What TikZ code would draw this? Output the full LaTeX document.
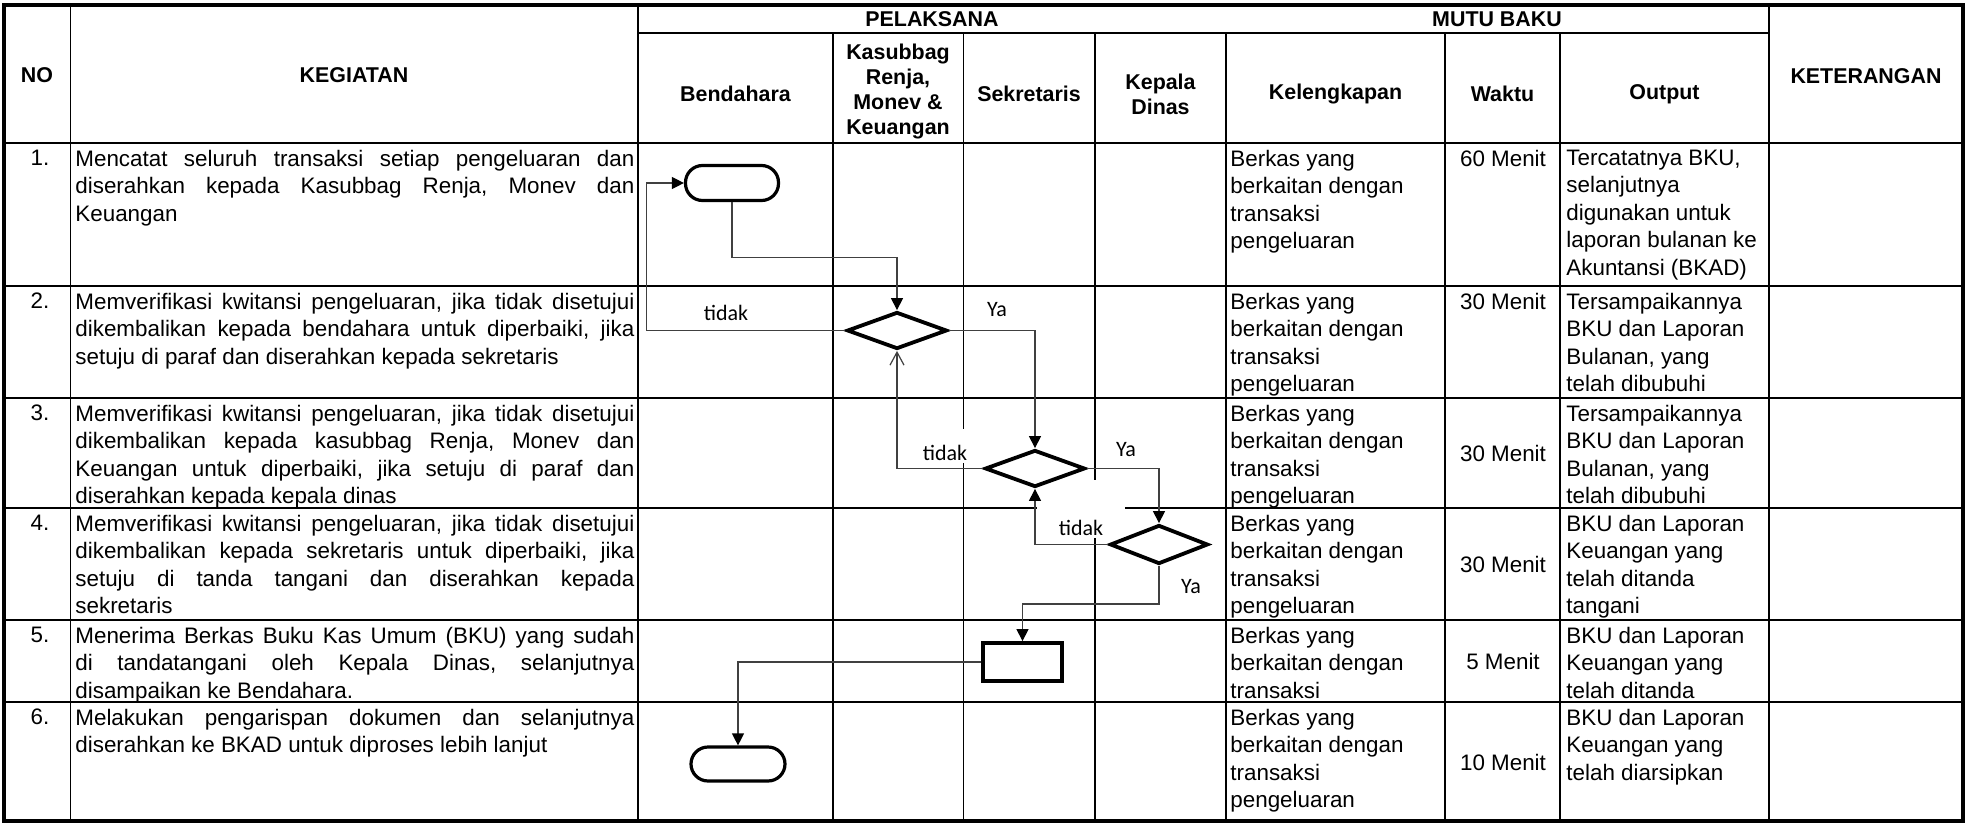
\documentclass[tikz,border=0pt]{standalone}
\usepackage{fontspec}
\setmainfont{Liberation Sans}
\newfontfamily\lblfont{Carlito}
\usetikzlibrary{shapes.geometric,arrows.meta}
\newcommand\bodysize{\fontsize{11.2}{13.75}\selectfont}
\newcommand\headsize{\fontsize{10.7}{12.5}\selectfont\bfseries}
\tolerance=9999
\hyphenpenalty=10000
\frenchspacing

\begin{document}
\begin{tikzpicture}[
  x=0.5pt, y=-0.5pt,
  grid/.style={line width=0.9pt},
  head/.style={font=\headsize, align=center, inner sep=0pt},
  body/.style={font=\bodysize, align=left, inner sep=0pt, anchor=north west},
  kegtext/.style={body, text width=279.5pt, align=justify},
  nocell/.style={font=\bodysize, inner sep=0pt, anchor=north},
  wkt/.style={font=\bodysize, inner sep=0pt},
  term/.style={draw, line width=1.6pt, rounded corners=8.5pt, minimum width=46.5pt, minimum height=17.5pt, inner sep=0pt},
  decision/.style={draw, diamond, line width=1.9pt, minimum width=50pt, minimum height=18.5pt, inner sep=0pt},
  proc/.style={draw, line width=1.9pt, minimum width=39.5pt, minimum height=19pt, inner sep=0pt},
  conn/.style={line width=0.6pt, draw=black!75, -{Triangle[length=6pt,width=6pt,color=black]}},
  openconn/.style={conn, -{Straight Barb[length=6.5pt,width=7pt]}},
  lbl/.style={font=\lblfont\fontsize{11}{13}\selectfont, inner sep=1pt, fill=white}
]
  \useasboundingbox (0,0) rectangle (1967,825);

  % table lines
  \foreach \y in {286,398,508,620,702} \draw[grid] (4,\y) -- (1963,\y);
  \draw[line width=1.3pt] (4,143) -- (1963,143);
  \draw[line width=1.3pt] (638,33) -- (1769,33);
  \foreach \x in {70.5,638,1769} \draw[grid] (\x,5) -- (\x,821);
  \foreach \x in {833,963.5,1095,1226,1445,1560} \draw[grid] (\x,33) -- (\x,821);
  \draw[line width=2pt] (4,5) rectangle (1963,821);

  % header
  \node[head] (hno) at (37,75) {NO};
  \node[head] (hkeg) at (354,75) {KEGIATAN};
  \node[head] (hpel) at (932,19) {PELAKSANA};
  \node[head] (hmutu) at (1497,19) {MUTU BAKU};
  \node[head] (hket) at (1866,76) {KETERANGAN};
  \node[head] (hbend) at (735.5,94) {Bendahara};
  \node[head] (hkas) at (898,92) {Kasubbag\\Renja,\\Monev \&\\Keuangan};
  \node[head] (hsek) at (1029,94) {Sekretaris};
  \node[head] (hkep) at (1160.5,94) {Kepala\\Dinas};
  \node[head] (hkel) at (1335.5,94) {Kelengkapan};
  \node[head] (hwkt) at (1502.5,94) {Waktu};
  \node[head] (hout) at (1664.5,94) {Output};

  % row 1
  \node[nocell] (no1) at (40,149.5) {1.};
  \node[kegtext] (keg1) at (75,149.5) {Mencatat seluruh transaksi setiap pengeluaran dan\linebreak diserahkan kepada Kasubbag Renja, Monev dan\linebreak Keuangan};
  \node[body] (kel1) at (1230,149.5) {Berkas yang\\berkaitan dengan\\transaksi\\pengeluaran};
  \node[nocell] (wkt1) at (1503,149.5) {60 Menit};
  \node[body] (out1) at (1566,149.5) {Tercatatnya BKU,\\selanjutnya\\digunakan untuk\\laporan bulanan ke\\Akuntansi (BKAD)};

  % row 2
  \node[nocell] (no2) at (40,292.5) {2.};
  \node[kegtext] (keg2) at (75,292.5) {Memverifikasi kwitansi pengeluaran, jika tidak disetujui\linebreak dikembalikan kepada bendahara untuk diperbaiki, jika\linebreak setuju di paraf dan diserahkan kepada sekretaris};
  \node[body] (kel2) at (1230,292.5) {Berkas yang\\berkaitan dengan\\transaksi\\pengeluaran};
  \node[nocell] (wkt2) at (1503,292.5) {30 Menit};
  \node[body] (out2) at (1566,292.5) {Tersampaikannya\\BKU dan Laporan\\Bulanan, yang\\telah dibubuhi};

  % row 3
  \node[nocell] (no3) at (40,404.5) {3.};
  \node[kegtext] (keg3) at (75,404.5) {Memverifikasi kwitansi pengeluaran, jika tidak disetujui\linebreak dikembalikan kepada kasubbag Renja, Monev dan\linebreak Keuangan untuk diperbaiki, jika setuju di paraf dan\linebreak diserahkan kepada kepala dinas};
  \node[body] (kel3) at (1230,404.5) {Berkas yang\\berkaitan dengan\\transaksi\\pengeluaran};
  \node[wkt] (wkt3) at (1503,453) {30 Menit};
  \node[body] (out3) at (1566,404.5) {Tersampaikannya\\BKU dan Laporan\\Bulanan, yang\\telah dibubuhi};

  % row 4
  \node[nocell] (no4) at (40,514.5) {4.};
  \node[kegtext] (keg4) at (75,514.5) {Memverifikasi kwitansi pengeluaran, jika tidak disetujui\linebreak dikembalikan kepada sekretaris untuk diperbaiki, jika\linebreak setuju di tanda tangani dan diserahkan kepada\linebreak sekretaris};
  \node[body] (kel4) at (1230,514.5) {Berkas yang\\berkaitan dengan\\transaksi\\pengeluaran};
  \node[wkt] (wkt4) at (1503,564) {30 Menit};
  \node[body] (out4) at (1566,514.5) {BKU dan Laporan\\Keuangan yang\\telah ditanda\\tangani};

  % row 5
  \node[nocell] (no5) at (40,626.5) {5.};
  \node[kegtext] (keg5) at (75,626.5) {Menerima Berkas Buku Kas Umum (BKU) yang sudah\linebreak di tandatangani oleh Kepala Dinas, selanjutnya\linebreak disampaikan ke Bendahara.};
  \node[body] (kel5) at (1230,626.5) {Berkas yang\\berkaitan dengan\\transaksi};
  \node[wkt] (wkt5) at (1503,661) {5 Menit};
  \node[body] (out5) at (1566,626.5) {BKU dan Laporan\\Keuangan yang\\telah ditanda};

  % row 6
  \node[nocell] (no6) at (40,708.5) {6.};
  \node[kegtext] (keg6) at (75,708.5) {Melakukan pengarispan dokumen dan selanjutnya\linebreak diserahkan ke BKAD untuk diproses lebih lanjut};
  \node[body] (kel6) at (1230,708.5) {Berkas yang\\berkaitan dengan\\transaksi\\pengeluaran};
  \node[wkt] (wkt6) at (1503,762) {10 Menit};
  \node[body] (out6) at (1566,708.5) {BKU dan Laporan\\Keuangan yang\\telah diarsipkan};

  % labels on the flow (white boxes hide the grid behind them)
  \node[lbl] (tdA) at (726,313) {tidak};
  \node[lbl] (yaA) at (997,310) {Ya};
  \node[lbl, text height=14.5pt, text depth=0.5pt, minimum width=40pt] (tdB) at (945,446) {tidak};
  \node[lbl] (yaB) at (1126,450) {Ya};
  \node[lbl, text height=26.75pt, text depth=0.25pt, minimum width=44pt] (tdC) at (1081,509) {tidak};
  \node[lbl] (yaC) at (1191,587) {Ya};

  % flow shapes
  \node[term] (T1) at (732,183) {};
  \node[decision] (D1) at (897,330.5) {};
  \node[decision] (D2) at (1035,468.5) {};
  \node[decision, minimum width=49pt, minimum height=19.5pt] (D3) at (1159,544.5) {};
  \node[proc] (R) at (1022.5,662) {};
  \node[term, minimum width=47pt, minimum height=17pt] (T2) at (738,764) {};

  % connectors
  \draw[conn] (T1.south) -- ++(0,-27.5pt) -| (D1.north);
  \draw[conn] (D1.west) -- ++(-99.5pt,0) |- (T1.west);
  \draw[conn] (D1.east) -| (D2.north);
  \draw[openconn] (D2.west) -| (D1.south);
  \draw[conn] (D2.east) -| (D3.north);
  \draw[conn] (D3.west) -| (D2.south);
  \draw[conn] (D3.south) -- ++(0,-19pt) -| (R.north);
  \draw[conn] (R.west) -| (T2.north);
\end{tikzpicture}
\end{document}
